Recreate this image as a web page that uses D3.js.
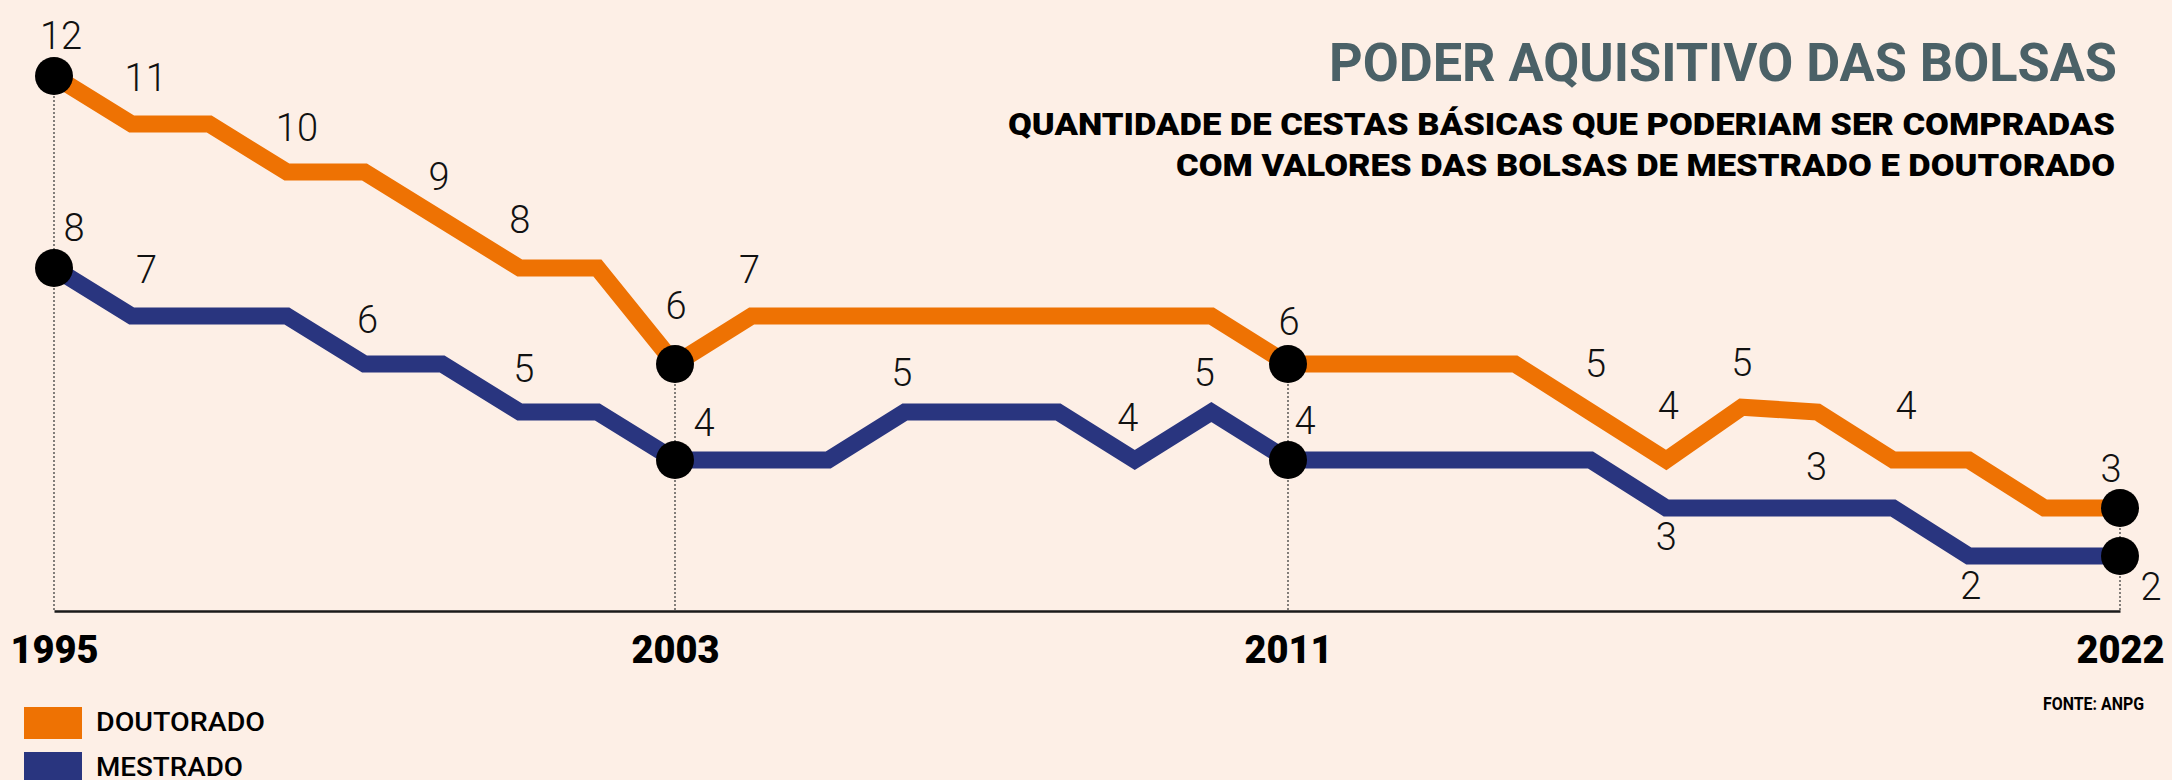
<!DOCTYPE html>
<html lang="pt">
<head>
<meta charset="utf-8">
<title>Poder aquisitivo das bolsas</title>
<script src="https://d3js.org/d3.v7.min.js"></script>
<style>
  body { margin: 0; background: #fdefe6; }
  svg { display: block; }
  .axis path { stroke: #1a1a1a; stroke-width: 2.5; }
  .axis text { font-family: Roboto, sans-serif; font-weight: 900; font-size: 38px; fill: #000; }
  .val { font-family: Roboto, sans-serif; font-weight: 300; font-size: 38px; fill: #111; text-anchor: middle; }
</style>
</head>
<body>
<script>

// ---- data (cestas básicas por bolsa) ----
var years = [1995, 1996, 1997, 1998, 1999, 2000, 2001, 2002, 2003, 2004,
             2005, 2006, 2007, 2008, 2009, 2010, 2011, 2012, 2013, 2014,
             2015, 2016, 2017, 2018, 2019, 2020, 2021, 2022];

var doutorado = [12, 11, 11, 10, 10, 9, 8, 8, 6, 7,
                 7, 7, 7, 7, 7, 7, 6, 6, 6, 6,
                 5, 4, 5.1, 5, 4, 4, 3, 3];

var mestrado = [8, 7, 7, 7, 6, 6, 5, 5, 4, 4,
                4, 5, 5, 5, 4, 5, 4, 4, 4, 4,
                4, 3, 3, 3, 3, 2, 2, 2];

// years shown on the axis (and marked with dots)
var keyYears = [1995, 2003, 2011, 2022];

// which points carry a number
var doutLabelYears = [1995, 1996, 1998, 2000, 2001, 2003, 2004, 2011, 2015, 2016, 2017, 2019, 2022];
var mestLabelYears = [1995, 1996, 1999, 2001, 2003, 2006, 2009, 2010, 2011, 2016, 2018, 2020, 2022];

// ---- layout ----
var width = 2172, height = 780;
var baseY = 611;

// label nudges [dx, dy] from the point, default is straight above
var nudge = {
  DOUTORADO: {1995: [7, -27], 1996: [14, -33], 1998: [10, -31], 2000: [-3, -30], 2001: [0, -35],
              2003: [1, -45], 2004: [-2, -33], 2011: [1, -29], 2015: [5, -35], 2016: [2, -41],
              2017: [0, -31], 2019: [13, -41], 2022: [-9, -26]},
  MESTRADO:  {1995: [20, -27], 1996: [15, -33], 1999: [3, -31], 2001: [4, -30], 2003: [29, -24],
              2006: [-3, -26], 2009: [-7, -29], 2010: [-7, -26], 2011: [17, -26], 2016: [0, 42],
              2018: [-1, -28], 2020: [2, 43], 2022: [31, 44]}
};

var series = [
  {name: "MESTRADO", values: mestrado, color: "#29357f", labels: mestLabelYears},
  {name: "DOUTORADO", values: doutorado, color: "#ee7203", labels: doutLabelYears}
];

var svg = d3.select("body").append("svg")
  .attr("width", width)
  .attr("height", height);

// scales: the original spaces the three periods slightly differently
var xScale = d3.scaleLinear()
  .domain(keyYears)
  .range([54, 675, 1288, 2120]);

var yScale = d3.scaleLinear()
  .domain([2, 12])
  .range([556, 76]);

function valueAt(arr, yr) { return arr[years.indexOf(yr)]; }

// dotted guides from the top dot to the axis
svg.selectAll(".guide")
  .data(keyYears)
  .enter().append("line")
  .attr("class", "guide")
  .attr("x1", function(d) { return xScale(d); })
  .attr("x2", function(d) { return xScale(d); })
  .attr("y1", function(d) { return yScale(valueAt(doutorado, d)); })
  .attr("y2", baseY)
  .attr("stroke", "#333")
  .attr("stroke-width", 1.2)
  .attr("stroke-dasharray", "2,2");

// x axis
var xAxis = d3.axisBottom(xScale)
  .tickValues(keyYears)
  .tickSize(0)
  .tickSizeOuter(0)
  .tickPadding(25)
  .tickFormat(d3.format("d"));

svg.append("g")
  .attr("class", "axis")
  .attr("transform", "translate(0," + baseY + ")")
  .call(xAxis);

// lines
var line = d3.line()
  .x(function(d, i) { return xScale(years[i]); })
  .y(function(d) { return yScale(d); });

svg.selectAll(".serie")
  .data(series)
  .enter().append("path")
  .attr("class", "serie")
  .attr("d", function(s) { return line(s.values); })
  .attr("fill", "none")
  .attr("stroke", function(s) { return s.color; })
  .attr("stroke-width", 17)
  .attr("stroke-linejoin", "miter")
  .attr("stroke-miterlimit", 10);

// dots on the key years
series.forEach(function(s) {
  svg.selectAll(".dot-" + s.name)
    .data(keyYears)
    .enter().append("circle")
    .attr("cx", function(d) { return xScale(d); })
    .attr("cy", function(d) { return yScale(valueAt(s.values, d)); })
    .attr("r", 19)
    .attr("fill", "#000");
});

// value labels
series.forEach(function(s) {
  svg.selectAll(".val-" + s.name)
    .data(s.labels)
    .enter().append("text")
    .attr("class", "val")
    .attr("x", function(d) { return xScale(d) + (nudge[s.name][d] || [0, -31])[0]; })
    .attr("y", function(d) { return yScale(valueAt(s.values, d)) + (nudge[s.name][d] || [0, -31])[1]; })
    .text(function(d) { return Math.round(valueAt(s.values, d)); });
});

// title block
svg.append("text")
  .attr("x", 1329).attr("y", 81)
  .attr("textLength", 788).attr("lengthAdjust", "spacingAndGlyphs")
  .style("font-family", "Roboto, sans-serif").style("font-weight", 700)
  .style("font-size", "53px").style("fill", "#4b6167")
  .text("PODER AQUISITIVO DAS BOLSAS");

svg.append("text")
  .attr("x", 1008).attr("y", 135)
  .attr("textLength", 1107).attr("lengthAdjust", "spacingAndGlyphs")
  .style("font-family", "Roboto, sans-serif").style("font-weight", 900)
  .style("font-size", "31px").style("fill", "#000")
  .text("QUANTIDADE DE CESTAS BÁSICAS QUE PODERIAM SER COMPRADAS");

svg.append("text")
  .attr("x", 1176).attr("y", 176)
  .attr("textLength", 939).attr("lengthAdjust", "spacingAndGlyphs")
  .style("font-family", "Roboto, sans-serif").style("font-weight", 900)
  .style("font-size", "31px").style("fill", "#000")
  .text("COM VALORES DAS BOLSAS DE MESTRADO E DOUTORADO");

// source
svg.append("text")
  .attr("x", 2043).attr("y", 710)
  .attr("textLength", 101).attr("lengthAdjust", "spacingAndGlyphs")
  .style("font-family", "Roboto, sans-serif").style("font-weight", 700)
  .style("font-size", "19px").style("fill", "#000")
  .text("FONTE: ANPG");

// legend
var legend = svg.selectAll(".legend")
  .data(series.slice().reverse())
  .enter().append("g")
  .attr("class", "legend")
  .attr("transform", function(d, i) { return "translate(24," + (707 + i * 45) + ")"; });

legend.append("rect")
  .attr("width", 58)
  .attr("height", 32)
  .attr("fill", function(d) { return d.color; });

legend.append("text")
  .attr("x", 72).attr("y", 24)
  .attr("textLength", function(d) { return d.name == "DOUTORADO" ? 169 : 147; })
  .attr("lengthAdjust", "spacingAndGlyphs")
  .style("font-family", "Roboto, sans-serif").style("font-weight", 500)
  .style("font-size", "26px").style("fill", "#000")
  .text(function(d) { return d.name; });

</script>
</body>
</html>
